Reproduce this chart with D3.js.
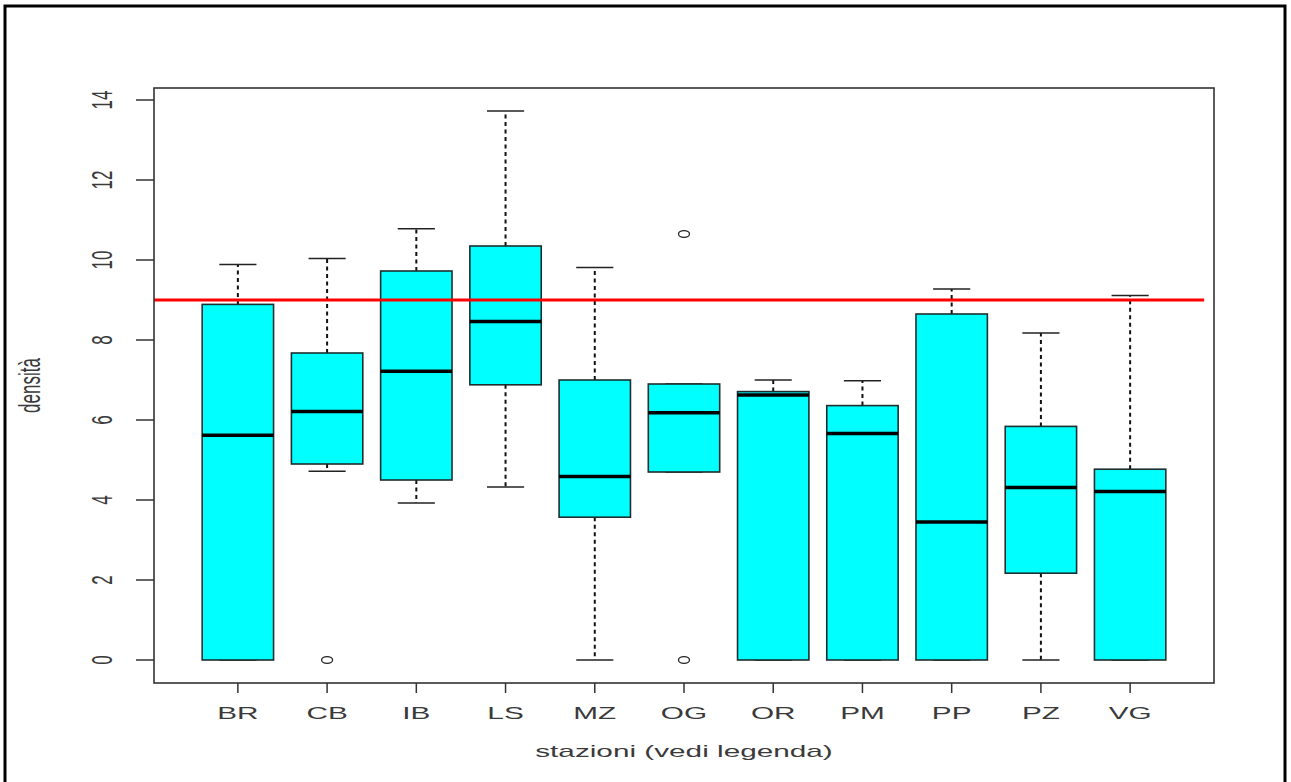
<!DOCTYPE html>
<html>
<head>
<meta charset="utf-8">
<script src="https://cdn.jsdelivr.net/npm/d3@7"></script>
<style>
  html, body { margin: 0; padding: 0; background: #fff; }
  svg { display: block; }
  text { font-family: "Liberation Sans", Arial, sans-serif; fill: #3a3a3a; }
</style>
</head>
<body>
<script>
// ---- data ----
const categories  = ["BR","CB","IB","LS","MZ","OG","OR","PM","PP","PZ","VG"];
const whiskerLow  = [0, 4.72, 3.925, 4.325, 0, 4.7, 0, 0, 0, 0, 0];
const q1          = [0, 4.9, 4.5, 6.88, 3.57, 4.7, 0, 0, 0, 2.17, 0];
const medians     = [5.62, 6.21, 7.22, 8.46, 4.59, 6.18, 6.625, 5.66, 3.45, 4.31, 4.21];
const q3          = [8.89, 7.675, 9.725, 10.35, 7.0, 6.9, 6.71, 6.36, 8.65, 5.84, 4.77];
const whiskerHigh = [9.89, 10.04, 10.78, 13.725, 9.81, 6.9, 7.0, 6.98, 9.275, 8.175, 9.11];
const outlierCat  = ["CB", "OG", "OG"];
const outlierVal  = [0, 10.65, 0];
const yTicks      = [0, 2, 4, 6, 8, 10, 12, 14];
const thresholdValue = 9;
const thresholdExtent = [0.06, 11.83];
const xTitle = "stazioni (vedi legenda)";
const yTitle = "densità";

// ---- layout ----
const W = 1291, H = 782;
const plot = { left: 154, top: 88, right: 1214, bottom: 683 };
const SX = 1.75; // horizontal stretch of text
const FS = 17;

const svg = d3.select("body").append("svg").attr("width", W).attr("height", H);

// outer frame
svg.append("rect").attr("x", 5).attr("y", 6).attr("width", 1280).attr("height", 800)
  .attr("fill", "none").attr("stroke", "#000").attr("stroke-width", 3);

const x = d3.scaleLinear().domain([0.06, 11.94]).range([plot.left, plot.right]);
const y = d3.scaleLinear().domain([0, 14]).range([660, 100]);
const pos = c => x(categories.indexOf(c) + 1);
const unit = x(2) - x(1);
const boxW = unit * 0.8;
const capW = boxW * 0.52;

const data = categories.map((c, i) => ({
  c, lo: whiskerLow[i], q1: q1[i], med: medians[i], q3: q3[i], hi: whiskerHigh[i]
}));

// whiskers (dashed)
const g = svg.append("g");
data.forEach(d => {
  const cx = pos(d.c);
  if (d.hi > d.q3) {
    g.append("line").attr("x1", cx).attr("x2", cx).attr("y1", y(d.q3)).attr("y2", y(d.hi))
      .attr("stroke", "#111").attr("stroke-width", 2).attr("stroke-dasharray", "4,3.5");
  }
  if (d.lo < d.q1) {
    g.append("line").attr("x1", cx).attr("x2", cx).attr("y1", y(d.q1)).attr("y2", y(d.lo))
      .attr("stroke", "#111").attr("stroke-width", 2).attr("stroke-dasharray", "4,3.5");
  }
  // caps
  [d.lo, d.hi].forEach(v => {
    g.append("line").attr("x1", cx - capW / 2).attr("x2", cx + capW / 2)
      .attr("y1", y(v)).attr("y2", y(v)).attr("stroke", "#222").attr("stroke-width", 1.5);
  });
});

// boxes
data.forEach(d => {
  const cx = pos(d.c);
  g.append("rect").attr("x", cx - boxW / 2).attr("y", y(d.q3))
    .attr("width", boxW).attr("height", Math.max(0.5, y(d.q1) - y(d.q3)))
    .attr("fill", "#00ffff").attr("stroke", "#1e2e2e").attr("stroke-width", 1.6);
  g.append("line").attr("x1", cx - boxW / 2).attr("x2", cx + boxW / 2)
    .attr("y1", y(d.med)).attr("y2", y(d.med)).attr("stroke", "#000").attr("stroke-width", 3.5);
});

// outliers
outlierCat.forEach((c, i) => {
  g.append("ellipse").attr("cx", pos(c)).attr("cy", y(outlierVal[i]))
    .attr("rx", 5.5).attr("ry", 3.3).attr("fill", "none").attr("stroke", "#222").attr("stroke-width", 1.3);
});

// threshold line
svg.append("line").attr("x1", x(thresholdExtent[0])).attr("x2", x(thresholdExtent[1]))
  .attr("y1", y(thresholdValue)).attr("y2", y(thresholdValue))
  .attr("stroke", "#ff0000").attr("stroke-width", 3);

// plot box
svg.append("rect").attr("x", plot.left).attr("y", plot.top)
  .attr("width", plot.right - plot.left).attr("height", plot.bottom - plot.top)
  .attr("fill", "none").attr("stroke", "#333").attr("stroke-width", 1.6);

// y ticks
yTicks.forEach(t => {
  svg.append("line").attr("x1", 136).attr("x2", plot.left).attr("y1", y(t)).attr("y2", y(t))
    .attr("stroke", "#333").attr("stroke-width", 1.5);
  svg.append("g").attr("transform", `translate(112,${y(t)}) scale(${SX},1) rotate(-90)`)
    .append("text").attr("text-anchor", "middle").attr("font-size", FS).text(t);
});

// x ticks
categories.forEach(c => {
  svg.append("line").attr("x1", pos(c)).attr("x2", pos(c)).attr("y1", plot.bottom).attr("y2", 693)
    .attr("stroke", "#333").attr("stroke-width", 1.5);
  svg.append("g").attr("transform", `translate(${pos(c)},719) scale(${SX},1)`)
    .append("text").attr("text-anchor", "middle").attr("font-size", FS).text(c);
});

// axis titles
svg.append("g").attr("transform", `translate(${(plot.left + plot.right) / 2},757) scale(${SX},1)`)
  .append("text").attr("text-anchor", "middle").attr("font-size", FS).text(xTitle);
svg.append("g").attr("transform", `translate(40,${(plot.top + plot.bottom) / 2}) scale(${SX},1) rotate(-90)`)
  .append("text").attr("text-anchor", "middle").attr("font-size", FS).text(yTitle);
</script>
</body>
</html>
